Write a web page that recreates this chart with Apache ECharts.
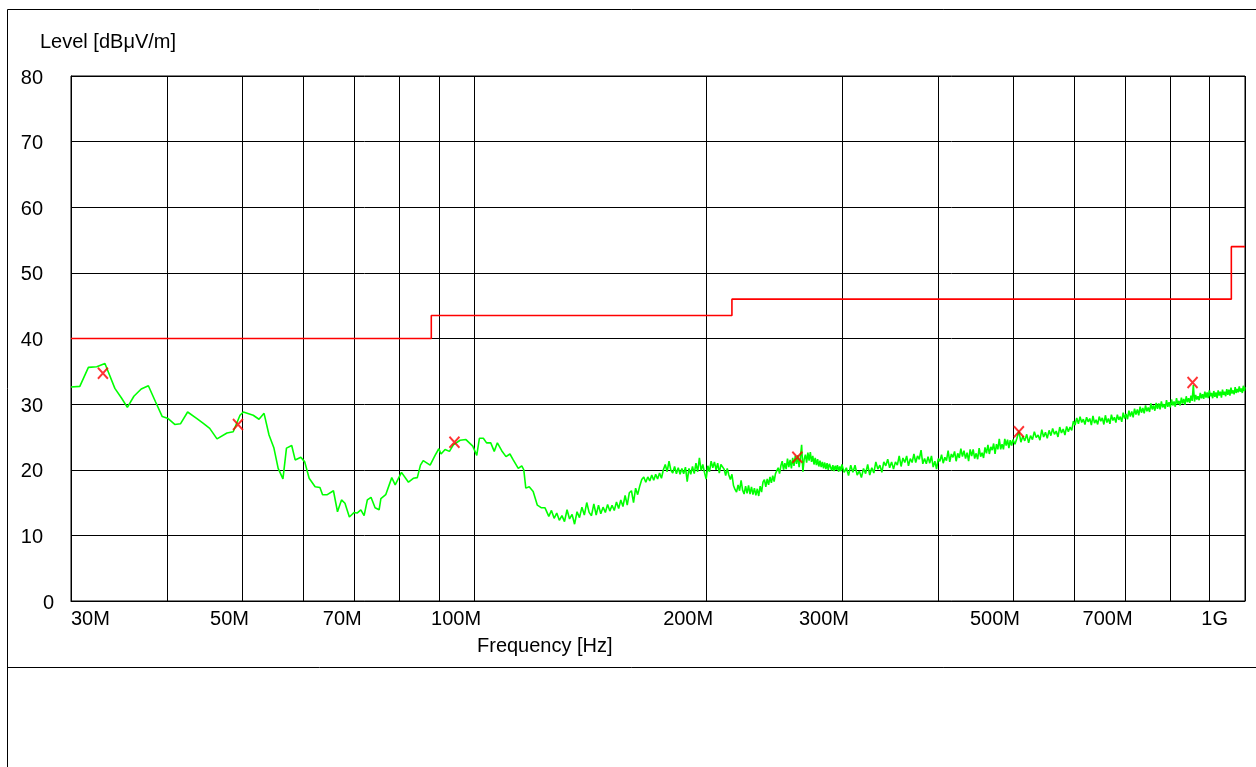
<!DOCTYPE html>
<html>
<head>
<meta charset="utf-8">
<script src="https://cdn.jsdelivr.net/npm/echarts@6/dist/echarts.min.js"></script>
<style>
  html, body { margin: 0; padding: 0; background: #ffffff; }
  #chart { width: 1256px; height: 767px; }
</style>
</head>
<body>
<div id="chart"></div>
<script>
// Radiated emission scan, frequencies in MHz, levels in dBµV/m.
const lowSweep = [
  [30.0, 32.6], [30.8, 32.7], [31.6, 35.6], [32.4, 35.7], [33.2, 36.2], [34.2, 32.4], [34.9, 30.9],
  [35.5, 29.5], [36.2, 31.2], [37.0, 32.3], [37.8, 32.8], [38.6, 30.4], [39.4, 28.1], [40.1, 27.8],
  [40.9, 26.9], [41.6, 27.0], [42.5, 28.8], [43.7, 27.8], [44.5, 27.1], [45.4, 26.3], [46.4, 24.7],
  [47.8, 25.6], [48.7, 25.8], [49.7, 28.3], [50.2, 28.8], [51.7, 28.3], [52.6, 27.7], [53.4, 28.6],
  [54.2, 25.3], [55.0, 23.3], [55.7, 20.2], [56.5, 18.6], [57.1, 23.3], [58.0, 23.7], [58.6, 21.5],
  [59.6, 21.9], [60.3, 21.2], [61.1, 18.7], [62.2, 17.4], [63.1, 17.3], [63.6, 16.2], [64.5, 16.2],
  [65.7, 16.8], [66.5, 13.6], [67.3, 15.4], [68.0, 14.9], [68.9, 12.8], [69.9, 13.5], [70.5, 13.4],
  [71.3, 13.9], [72.0, 13.0], [72.7, 15.4], [73.5, 15.8], [74.4, 14.2], [75.3, 13.9], [75.7, 15.6],
  [76.8, 16.2], [78.2, 18.8], [79.0, 17.7], [80.5, 19.6], [82.2, 18.1], [83.4, 18.7], [84.4, 18.8],
  [85.2, 20.7], [85.9, 21.4], [87.7, 20.7], [89.0, 22.2], [90.0, 23.2], [90.6, 22.4], [91.7, 23.1],
  [92.9, 22.8], [94.0, 23.8], [95.9, 24.5], [97.6, 24.6], [99.6, 23.6], [100.8, 22.2], [101.6, 24.8],
  [102.8, 24.8], [103.8, 24.1], [105.1, 24.1], [106.2, 22.8], [107.2, 24.1], [108.6, 22.9], [110.0, 22.0],
  [111.3, 22.4], [112.4, 21.5], [114.1, 20.2], [115.3, 20.6], [116.0, 20.0], [116.7, 17.2], [117.9, 17.4],
  [119.3, 16.7], [120.8, 14.6], [122.3, 14.2], [123.6, 14.2]
];

const midSweep = [
  [125, 12.9], [126, 13.8], [127, 12.6], [128, 13.4], [129, 12.3], [130, 13.0], [131, 12.1], [132, 13.9],
  [133, 12.5], [134, 13.2], [135, 11.7], [136, 13.6], [137, 12.7], [138, 14.3], [139, 13.1], [140, 15.0],
  [141, 13.5], [142, 13.0], [143, 14.8], [144, 13.1], [145, 14.6], [146, 13.3], [147, 14.3], [148, 13.5],
  [149, 14.7], [150, 13.7], [151, 14.6], [152, 13.8], [153, 15.1], [154, 14.1], [155, 15.4], [156, 14.4],
  [157, 16.1], [158, 14.6], [159, 16.5], [160, 16.8], [161, 15.0], [162, 17.2], [163, 16.2], [164, 17.5],
  [165, 18.5], [166, 18.9], [167, 18.1], [168, 18.9], [169, 18.3], [170, 19.2], [171, 18.4], [172, 19.3],
  [173, 18.6], [174, 19.5], [175, 18.7], [176, 20.0], [177, 20.8], [178, 19.7], [179, 21.3], [180, 19.9],
  [181, 19.5], [182, 20.5], [183, 19.4], [184, 20.3], [185, 19.3], [186, 20.2], [187, 19.4], [188, 20.4],
  [189, 18.2], [190, 20.2], [191, 19.3], [192, 20.5], [193, 19.4], [194, 21.0], [195, 19.7], [196, 21.8],
  [197, 19.9], [198, 20.8], [199, 19.6], [200, 18.6], [201, 20.6], [202, 19.7], [203, 21.3], [204, 20.3],
  [205, 21.2], [206, 20.0], [207, 21.0], [208, 19.5], [209, 20.8], [210, 21.1], [211, 20.1], [212, 19.1],
  [213, 20.2], [214, 19.2], [215, 18.5], [216, 19.3], [217, 17.6], [218, 17.0], [219, 16.6], [220, 17.7],
  [221, 16.8], [222, 18.4], [223, 16.9], [224, 16.3], [225, 17.5], [226, 16.4], [227, 17.6], [228, 16.3],
  [229, 17.4], [230, 16.2], [231, 17.2], [232, 16.1], [233, 17.1], [234, 16.0], [235, 17.5], [236, 16.6],
  [237, 18.1], [238, 18.5], [239, 17.4], [240, 18.6], [241, 17.7], [242, 18.9], [243, 18.0], [244, 19.1],
  [245, 18.2], [246, 19.4], [247, 19.6], [248, 20.3], [249, 19.4], [250, 20.6], [251, 21.3], [252, 20.0],
  [253, 21.0], [254, 20.1], [255, 21.7], [256, 20.4], [257, 21.5], [258, 20.2], [259, 21.8], [260, 20.6],
  [261, 22.1], [262, 20.9], [263, 22.2], [264, 20.4], [265, 21.9], [266, 23.8], [267, 19.7], [268, 21.6],
  [269, 22.3], [270, 21.1], [271, 22.6], [272, 21.4], [273, 22.7], [274, 21.2], [275, 22.1], [276, 20.8],
  [277, 21.8], [278, 20.7], [279, 21.6], [280, 20.5], [281, 21.4], [282, 20.4], [283, 21.2], [284, 20.2],
  [285, 21.1], [286, 20.1], [287, 21.0], [288, 20.0], [289, 20.9], [290, 20.7], [291, 19.9], [292, 20.7],
  [293, 19.8], [294, 20.6], [295, 20.0], [296, 20.7], [297, 19.7], [298, 20.5], [299, 19.8]
];

const highSweep = [
  [300, 20.8], [302, 19.6], [304, 20.3], [306, 19.1], [308, 20.7], [310, 19.6], [312, 20.7], [314, 19.2],
  [316, 19.8], [318, 18.8], [320, 20.2], [322, 19.4], [324, 20.8], [326, 19.2], [328, 20.3], [330, 19.5],
  [332, 21.2], [334, 20.1], [336, 20.7], [338, 19.6], [340, 21.2], [342, 20.6], [344, 21.6], [346, 20.3],
  [348, 21.2], [350, 20.1], [352, 21.2], [354, 20.7], [356, 22.1], [358, 20.5], [360, 21.8], [362, 21.1],
  [364, 22.1], [366, 20.6], [368, 21.7], [370, 21.1], [372, 22.4], [374, 21.1], [376, 22.1], [378, 21.6],
  [380, 23.0], [382, 20.9], [384, 21.7], [386, 20.9], [388, 22.0], [390, 21.0], [392, 22.1], [394, 20.4],
  [396, 21.3], [398, 20.1], [400, 21.7], [402, 21.3], [404, 22.3], [406, 21.0], [408, 21.9], [410, 21.4],
  [412, 22.9], [414, 21.2], [416, 22.4], [418, 21.9], [420, 22.8], [422, 21.3], [424, 22.5], [426, 21.8],
  [428, 23.2], [430, 22.0], [432, 22.9], [434, 21.7], [436, 22.6], [438, 21.3], [440, 23.1], [442, 22.1],
  [444, 23.1], [446, 21.7], [448, 22.5], [450, 21.6], [452, 23.3], [454, 22.0], [456, 22.6], [458, 21.8],
  [460, 23.4], [462, 22.5], [464, 23.8], [466, 22.4], [468, 23.5], [470, 23.0], [472, 24.0], [474, 22.4],
  [476, 23.9], [478, 23.1], [480, 24.7], [482, 23.1], [484, 23.9], [486, 23.1], [488, 24.7], [490, 23.7],
  [492, 24.6], [494, 23.3], [496, 24.5], [498, 23.7]
];

const topSweep = [
  [500, 24.6], [503, 23.9], [506, 24.8], [509, 25.9], [512, 24.2], [515, 25.1], [518, 24.4], [521, 25.4],
  [524, 24.1], [527, 25.2], [530, 24.6], [533, 25.8], [536, 24.9], [539, 25.3], [542, 24.5], [545, 26.1],
  [548, 25.0], [551, 25.7], [554, 24.8], [557, 26.0], [560, 25.2], [563, 26.3], [566, 25.4], [569, 25.9],
  [572, 25.0], [575, 26.5], [578, 25.6], [581, 26.2], [584, 25.3], [587, 26.6], [590, 25.8], [593, 26.5],
  [596, 26.0], [599, 27.4], [602, 26.8], [605, 27.9], [608, 27.0], [611, 28.1], [614, 27.2], [617, 27.7],
  [620, 26.9], [623, 28.0], [626, 27.3], [629, 27.8], [632, 26.8], [635, 28.2], [638, 27.1], [641, 27.6],
  [644, 26.9], [647, 28.1], [650, 27.4], [653, 27.9], [656, 26.9], [659, 28.3], [662, 27.2], [665, 27.8],
  [668, 27.0], [671, 28.4], [674, 27.5], [677, 28.0], [680, 27.2], [683, 28.4], [686, 27.6], [689, 28.1],
  [692, 27.3], [695, 28.7], [698, 27.8], [701, 28.5], [704, 27.7], [707, 29.0], [710, 28.1], [713, 28.9],
  [716, 28.0], [719, 29.3], [722, 28.4], [725, 29.2], [728, 28.3], [731, 29.6], [734, 28.7], [737, 29.4],
  [740, 28.6], [743, 29.8], [746, 28.9], [749, 29.5], [752, 28.8], [755, 30.1], [758, 29.2], [761, 29.8],
  [764, 29.0], [767, 30.2], [770, 29.3], [773, 30.1], [776, 29.2], [779, 30.4], [782, 29.5], [785, 30.0],
  [788, 29.3], [791, 30.6], [794, 29.6], [797, 30.3], [800, 29.5], [803, 30.7], [806, 29.8], [809, 30.4],
  [812, 29.6], [815, 30.9], [818, 30.0], [821, 30.5], [824, 29.8], [827, 31.0], [830, 30.1], [833, 30.8],
  [836, 29.9], [839, 31.2], [842, 30.3], [845, 30.9], [848, 30.2], [851, 31.3], [854, 30.5], [857, 32.9],
  [860, 30.4], [863, 31.4], [866, 30.7], [869, 31.2], [872, 30.6], [875, 31.7], [878, 30.9], [881, 31.5],
  [884, 30.8], [887, 31.9], [890, 31.0], [893, 31.8], [896, 30.9], [899, 32.1], [902, 31.2], [905, 31.7],
  [908, 30.9], [911, 32.0], [914, 31.1], [917, 31.8], [920, 30.9], [923, 32.1], [926, 31.3], [929, 31.9],
  [932, 31.0], [935, 32.2], [938, 31.4], [941, 31.9], [944, 31.2], [947, 32.3], [950, 31.4], [953, 32.2],
  [956, 31.3], [959, 32.5], [962, 31.6], [965, 32.1], [968, 31.5], [971, 32.6], [974, 31.7], [977, 32.3],
  [980, 31.8], [983, 32.7], [986, 31.9], [989, 32.4], [992, 31.7], [995, 32.8], [998, 32.0], [1000, 32.6]
];

// Class B limit (3 m), stepped
const limitLine = [
  [30, 40], [88, 40], [88, 43.5], [216, 43.5], [216, 46], [960, 46], [960, 54], [1000, 54]
];

// Quasi-peak final measurements
const peaks = [
  [33.0, 34.7], [49.4, 26.9], [94.3, 24.2], [262.6, 21.9], [509, 25.8], [855, 33.3]
];

const freqGrid = [30, 40, 50, 60, 70, 80, 90, 100, 200, 300, 400, 500, 600, 700, 800, 900, 1000];
const freqLabels = [30, 50, 70, 100, 200, 300, 500, 700, 1000];

const FONT = "'Liberation Sans', Arial, Helvetica, sans-serif";
const FS = 20;

const chart = echarts.init(document.getElementById('chart'), null, { renderer: 'canvas' });

chart.setOption({
  animation: false,
  backgroundColor: '#ffffff',
  title: [
    { text: 'Level [dBμV/m]', left: 40, top: 32, padding: 0,
      textStyle: { fontFamily: FONT, fontSize: FS, fontWeight: 'normal', color: '#000' } },
    { text: 'Frequency [Hz]', left: 477, top: 636, padding: 0,
      textStyle: { fontFamily: FONT, fontSize: FS, fontWeight: 'normal', color: '#000' } }
  ],
  graphic: [
    { type: 'line', silent: true, shape: { x1: 7.5, y1: 9.5, x2: 1256, y2: 9.5 },
      style: { stroke: '#000', lineWidth: 1 } },
    { type: 'line', silent: true, shape: { x1: 7.5, y1: 9.5, x2: 7.5, y2: 767 },
      style: { stroke: '#000', lineWidth: 1 } },
    { type: 'line', silent: true, shape: { x1: 7.5, y1: 667.5, x2: 1256, y2: 667.5 },
      style: { stroke: '#000', lineWidth: 1 } }
  ],
  grid: {
    left: 71, top: 76, width: 1174, height: 525,
    show: true, borderColor: '#000', borderWidth: 1, backgroundColor: 'transparent'
  },
  xAxis: {
    type: 'log', logBase: 10, min: 30, max: 1000,
    axisLine: { show: true, lineStyle: { color: '#000', width: 1 } },
    axisTick: { show: false, customValues: freqGrid },
    splitLine: { show: true, lineStyle: { color: '#000', width: 1 } },
    axisLabel: {
      customValues: freqLabels,
      fontFamily: FONT, fontSize: FS, color: '#000',
      margin: 8, align: 'right', padding: [0, -7, 0, 0],
      alignMinLabel: 'left', alignMaxLabel: 'right',
      formatter: v => (v >= 1000 ? '{g|1G}' : Math.round(v) + 'M'),
      rich: { g: { fontFamily: FONT, fontSize: FS, color: '#000', padding: [0, 24, 0, 0] } }
    }
  },
  yAxis: {
    type: 'value', min: 0, max: 80, interval: 10,
    axisLine: { show: true, lineStyle: { color: '#000', width: 1 } },
    axisTick: { show: false },
    splitLine: { show: true, lineStyle: { color: '#000', width: 1 } },
    axisLabel: {
      fontFamily: FONT, fontSize: FS, color: '#000', margin: 28,
      verticalAlign: 'top', lineHeight: 20, padding: [-8, 0, 0, 0],
      alignMinLabel: 'left'
    }
  },
  series: [
    {
      name: 'Limit', type: 'line', data: limitLine, showSymbol: false, symbol: 'none',
      lineStyle: { color: '#ff0000', width: 1.6 }, z: 3
    },
    {
      name: 'Scan', type: 'line', data: lowSweep.concat(midSweep, highSweep, topSweep),
      showSymbol: false, symbol: 'none',
      lineStyle: { color: '#00ff00', width: 1.6 }, z: 2
    },
    {
      name: 'Final', type: 'scatter', data: peaks,
      symbol: 'path://M0,0L10,11M10,0L0,11', symbolSize: [10, 11],
      itemStyle: { color: 'rgba(0,0,0,0)', borderColor: '#ff0000', borderWidth: 2 }, z: 4
    }
  ]
});
</script>
</body>
</html>
